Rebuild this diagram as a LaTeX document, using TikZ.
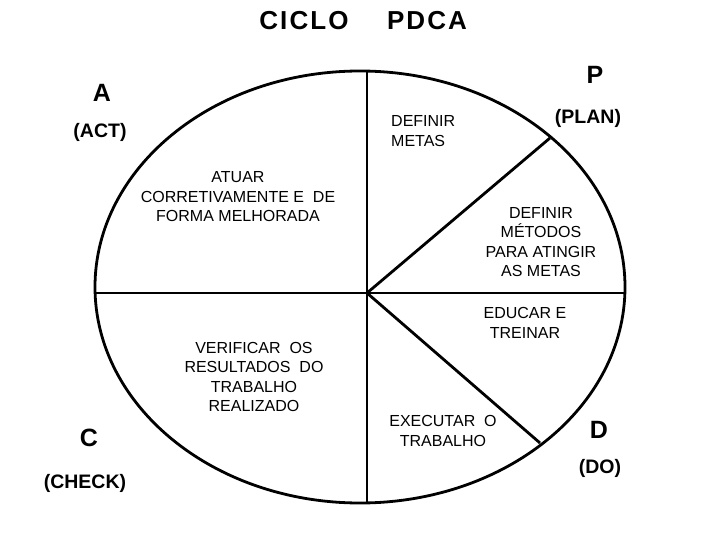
\documentclass[tikz,border=0pt]{standalone}
\usepackage{fontspec}
\setmainfont{Liberation Sans}
\begin{document}
\begin{tikzpicture}[x=1pt,y=-1pt,
  heavy/.style={line width=2.8pt},
  body/.style={font=\fontsize{16}{19.5}\selectfont, align=center, inner sep=0pt},
  big/.style={font=\fontsize{25}{28}\selectfont\bfseries, inner sep=0pt},
  sub/.style={font=\fontsize{19.5}{22}\selectfont\bfseries, inner sep=0pt},
  ttl/.style={font=\fontsize{26}{30}\selectfont\bfseries\addfontfeature{LetterSpace=8}, inner sep=0pt}]
\useasboundingbox (0,0) rectangle (720,540);
% geometry
\coordinate (E) at (360,287);
\coordinate (O) at (367,293);
\coordinate (T) at (367,71);
\coordinate (B) at (367,503);
\coordinate (L) at (95,293);
\coordinate (R) at (625,293);
\coordinate (U) at (550,138);
\coordinate (D) at (540,443);
\draw[heavy] (E) ellipse [x radius=265, y radius=216];
\draw[heavy] (T) -- (B);
\draw[heavy] (L) -- (R);
\draw[heavy] (O) -- (U);
\draw[heavy] (O) -- (D);
% title
\node[ttl] (t1) at (304,21) {CICLO};
\node[ttl] (t2) at (427,21) {PDCA};
% letters
\node[big] (a) at (102,93) {A};
\node[sub] (act) at (100,132) {(ACT)};
\node[big] (p) at (595,75) {P};
\node[sub] (plan) at (588,118) {(PLAN)};
\node[big] (c) at (89,438) {C};
\node[sub] (check) at (85,483) {(CHECK)};
\node[big] (d) at (599,430) {D};
\node[sub] (do) at (600,468) {(DO)};
% texts
\node[body, align=left, anchor=west] (metas) at (391,131) {DEFINIR\\METAS};
\node[body] (atuar) at (238,197) {ATUAR\\CORRETIVAMENTE E\ \ DE\\FORMA MELHORADA};
\node[body] (metodos) at (541,242) {DEFINIR\\MÉTODOS\\PARA ATINGIR\\AS METAS};
\node[body] (educar) at (525,323) {EDUCAR E\\TREINAR};
\node[body] (verif) at (254,377) {VERIFICAR\ \ OS\\RESULTADOS\ \ DO\\TRABALHO\\REALIZADO};
\node[body] (exec) at (443,431) {EXECUTAR\ \ O\\TRABALHO};
\end{tikzpicture}
\end{document}
